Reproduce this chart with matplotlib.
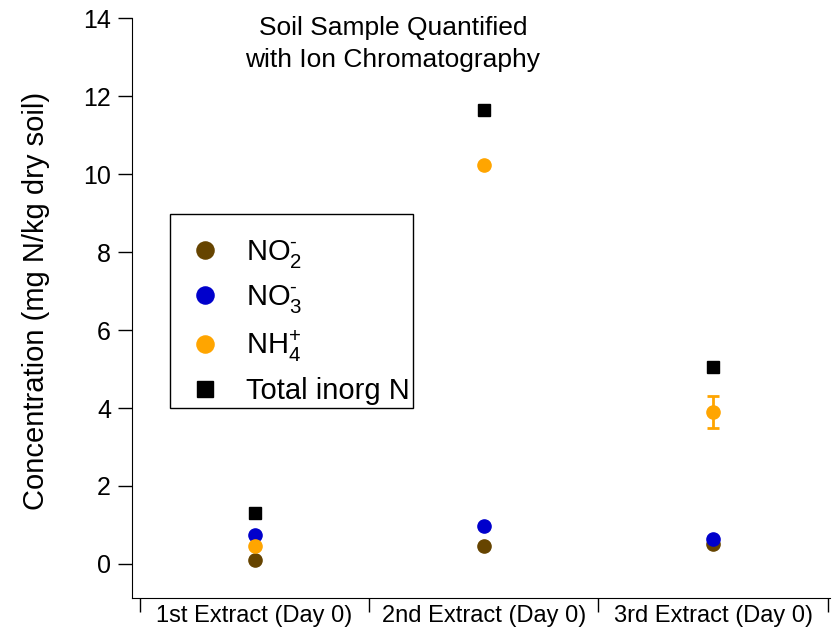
import matplotlib.pyplot as plt

plt.rcParams['font.family'] = ['Liberation Sans', 'DejaVu Sans']
plt.rcParams['mathtext.fontset'] = 'custom'
plt.rcParams['mathtext.rm'] = 'Liberation Sans'
plt.rcParams['mathtext.it'] = 'Liberation Sans'

# Данные
extracts = ['1st Extract (Day 0)', '2nd Extract (Day 0)', '3rd Extract (Day 0)']
no2 = [0.10, 0.46, 0.51]
no3 = [0.74, 0.97, 0.64]
nh4 = [0.46, 10.23, 3.90]
nh4_err = [0, 0, 0.41]
total_n = [1.31, 11.65, 5.05]

x = list(range(len(extracts)))

fig = plt.figure(figsize=(8.35, 6.28), dpi=100)
ax = fig.add_axes([0.158, 0.048, 0.836, 0.923])

ax.plot(x, no2, 'o', color='#664400', ms=9.5, label=r'NO$_2^{\text{-}}$', zorder=3)
ax.plot(x, no3, 'o', color='#0000CC', ms=9.5, label=r'NO$_3^{\text{-}}$', zorder=4)
ax.plot(x, nh4, 'o', color='#FFA500', ms=9.5, label=r'NH$_4^{\text{+}}$', zorder=5)
# погрешность только для третьего экстракта
ax.errorbar(x[2:], nh4[2:], yerr=nh4_err[2:], fmt='none', ecolor='#FFA500',
            capsize=4.5, elinewidth=2, capthick=2, zorder=5)
ax.plot(x, total_n, 's', color='black', ms=9, label='Total inorg N', zorder=6)

ax.set_xlim(-0.535, 2.51)
ax.set_ylim(-0.87, 14)
ax.set_yticks([0, 2, 4, 6, 8, 10, 12, 14])
ax.set_xticks([-0.5, 0.5, 1.5, 2.5])
ax.set_xticklabels([])
ax.set_xticks(x, minor=True)
ax.set_xticklabels(extracts, minor=True)
ax.tick_params(axis='x', which='major', direction='out', length=10, width=1)
ax.tick_params(axis='x', which='minor', length=0, labelsize=17, pad=5)
ax.tick_params(axis='y', direction='out', length=10, width=1, labelsize=18, pad=5)

for s in ['top', 'right']:
    ax.spines[s].set_visible(False)

ax.set_ylabel('Concentration (mg N/kg dry soil)', fontsize=21)
ax.yaxis.set_label_coords(-0.118, 0.512)

ax.text(0.374, 1.003, 'Soil Sample Quantified\nwith Ion Chromatography',
        transform=ax.transAxes, ha='center', va='top', fontsize=19, linespacing=1.4)

leg = ax.legend(loc='upper left', bbox_to_anchor=(0.054, 0.662), fontsize=21,
                title=' ', title_fontsize=6, markerscale=1.3,
                frameon=True, fancybox=False, edgecolor='black', framealpha=1,
                labelspacing=0.45, handletextpad=0.3, borderpad=0.12, handlelength=2.2,
                borderaxespad=0)
leg.get_frame().set_linewidth(1)

plt.savefig('out.png', dpi=100)
